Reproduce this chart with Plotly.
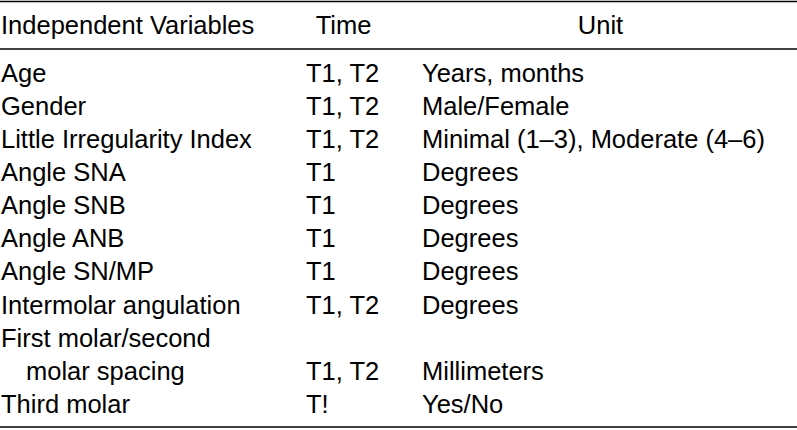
import plotly.graph_objects as go

# ---- table content ----
headers = ["Independent Variables", "Time", "Unit"]
variables = [
    ["Age"],
    ["Gender"],
    ["Little Irregularity Index"],
    ["Angle SNA"],
    ["Angle SNB"],
    ["Angle ANB"],
    ["Angle SN/MP"],
    ["Intermolar angulation"],
    ["First molar/second", "molar spacing"],
    ["Third molar"],
]
times = ["T1, T2", "T1, T2", "T1, T2", "T1", "T1", "T1", "T1", "T1, T2", "T1, T2", "T!"]
units = ["Years, months", "Male/Female", "Minimal (1\u20133), Moderate (4\u20136)",
         "Degrees", "Degrees", "Degrees", "Degrees", "Degrees", "Millimeters", "Yes/No"]

# ---- layout parameters (pixels) ----
W, H = 797, 430
FONT = dict(family="Liberation Sans, Arial, Helvetica, sans-serif", size=25.5, color="#000000")
ROW_H = 33.1
FIRST_ROW_Y = 75.5
HEADER_Y = 28.0
COL1_X, INDENT_X, COL2_X, COL3_X = 1.0, 26.0, 306.0, 422.0
COL2_HDR_X, COL3_HDR_X = 343.5, 600.5
RULE_TOP, RULE_MID, RULE_BOT = 1.5, 49.0, 427.0

# build line positions
v_x, v_y, v_t = [], [], []
t_x, t_y, t_t = [], [], []
u_x, u_y, u_t = [], [], []
line = 0
for lines, tm, un in zip(variables, times, units):
    for k, txt in enumerate(lines):
        v_x.append(COL1_X if k == 0 else INDENT_X)
        v_y.append(FIRST_ROW_Y + line * ROW_H)
        v_t.append(txt)
        line += 1
    last_y = FIRST_ROW_Y + (line - 1) * ROW_H
    t_x.append(COL2_X); t_y.append(last_y); t_t.append(tm)
    u_x.append(COL3_X); u_y.append(last_y); u_t.append(un)

fig = go.Figure()
common = dict(mode="text", textfont=FONT, hoverinfo="skip", showlegend=False, cliponaxis=False)
fig.add_trace(go.Scatter(x=v_x + t_x + u_x, y=v_y + t_y + u_y, text=v_t + t_t + u_t,
                         textposition="middle right", **common))
fig.add_trace(go.Scatter(x=[COL1_X], y=[HEADER_Y], text=[headers[0]],
                         textposition="middle right", **common))
fig.add_trace(go.Scatter(x=[COL2_HDR_X, COL3_HDR_X], y=[HEADER_Y, HEADER_Y], text=headers[1:],
                         textposition="middle center", **common))

for yy in (RULE_TOP, RULE_MID, RULE_BOT):
    fig.add_shape(type="line", x0=0, x1=W, y0=yy, y1=yy, xref="x", yref="y",
                  line=dict(color="#000000", width=1.6))

fig.update_layout(
    width=W, height=H, margin=dict(l=0, r=0, t=0, b=0),
    paper_bgcolor="white", plot_bgcolor="white",
    xaxis=dict(range=[0, W], visible=False, fixedrange=True),
    yaxis=dict(range=[H, 0], visible=False, fixedrange=True),
)
fig.write_html("out.html", config={"displayModeBar": False},
               post_script="document.body.style.margin='0';document.body.style.overflow='hidden';")
